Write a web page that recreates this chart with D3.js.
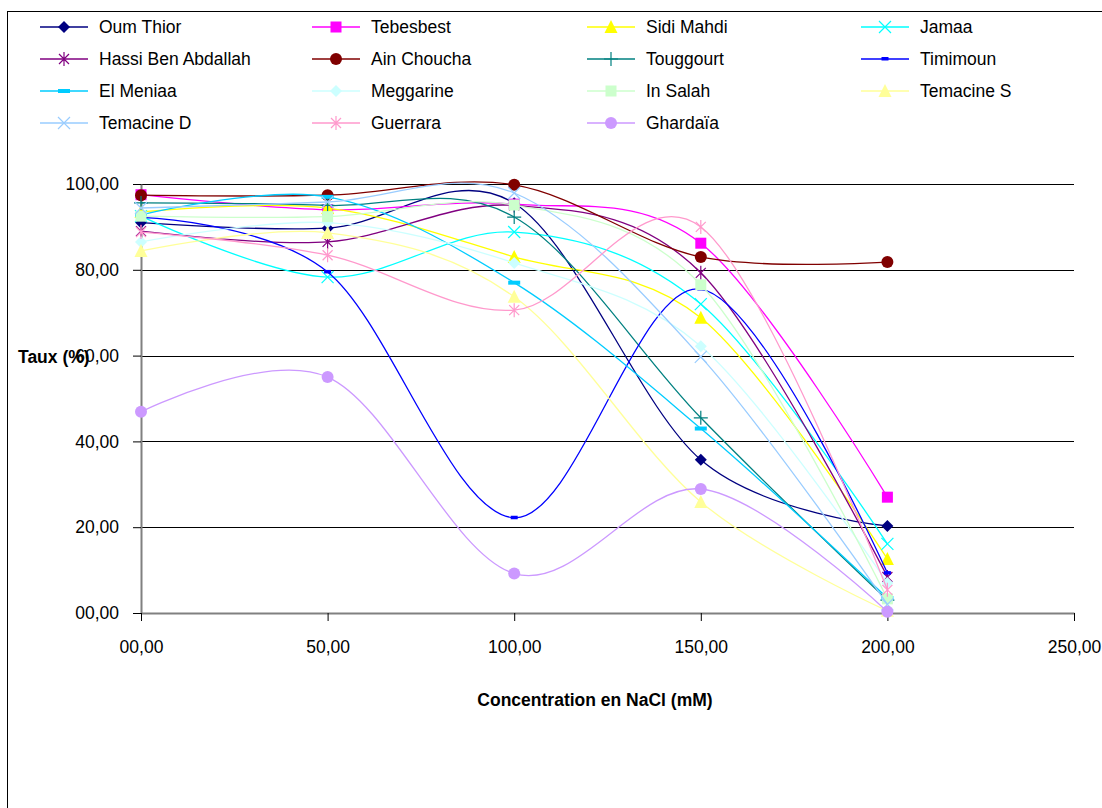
<!DOCTYPE html>
<html>
<head>
<meta charset="utf-8">
<script src="https://cdn.jsdelivr.net/npm/d3@7"></script>
<style>
  html, body { margin: 0; padding: 0; background: #fff; }
  svg text { font-family: "Liberation Sans", Arial, sans-serif; }
</style>
</head>
<body>
<svg id="chart" width="1102" height="808"></svg>
<script>
// NaCl concentrations (mM)
const concentrations = [0, 50, 100, 150, 200];

// Germination rate (%) per provenance
const oumThior        = [91.0, 89.7, 95.5, 35.7, 20.3];
const tebesbest       = [97.5, 94.0, 95.3, 86.2, 27.0];
const sidiMahdi       = [93.5, 94.4, 83.0, 68.8, 12.6];
const jamaa           = [92.5, 78.3, 88.8, 72.0, 16.1];
const hassiBenAbdallah= [89.0, 86.5, 95.0, 79.3, 8.4];
const ainChoucha      = [97.4, 97.4, 99.8, 83.0, 81.8];
const touggourt       = [95.6, 95.0, 92.3, 45.5, 3.0];
const timimoun        = [92.2, 79.5, 22.2, 75.5, 9.3];
const elMeniaa        = [92.8, 97.0, 77.0, 43.0, 3.5];
const meggarine       = [86.5, 91.0, 81.6, 62.2, 7.0];
const inSalah         = [92.5, 92.4, 95.1, 76.5, 3.3];
const temacineS       = [84.4, 88.6, 73.7, 25.9, 0.5];
const temacineD       = [94.4, 95.8, 97.9, 59.7, 2.0];
const guerrara        = [88.8, 83.4, 70.6, 90.0, 5.4];
const ghardaia        = [46.9, 55.0, 9.2, 28.9, 0.3];

const seriesNames = ["Oum Thior", "Tebesbest", "Sidi Mahdi", "Jamaa",
  "Hassi Ben Abdallah", "Ain Choucha", "Touggourt", "Timimoun",
  "El Meniaa", "Meggarine", "In Salah", "Temacine S",
  "Temacine D", "Guerrara", "Ghardaïa"];
const seriesValues = [oumThior, tebesbest, sidiMahdi, jamaa,
  hassiBenAbdallah, ainChoucha, touggourt, timimoun,
  elMeniaa, meggarine, inSalah, temacineS,
  temacineD, guerrara, ghardaia];

// Axis ticks and their labels
const xTicks = [0, 50, 100, 150, 200, 250];
const xTickLabels = ["00,00", "50,00", "100,00", "150,00", "200,00", "250,00"];
const yTicks = [0, 20, 40, 60, 80, 100];
const yTickLabels = ["00,00", "20,00", "40,00", "60,00", "80,00", "100,00"];

// Styling per series: colour and marker shape
const seriesColors = ["#000080", "#FF00FF", "#FFFF00", "#00FFFF",
  "#800080", "#800000", "#008080", "#0000FF",
  "#00CCFF", "#CCFFFF", "#CCFFCC", "#FFFF99",
  "#99CCFF", "#FF99CC", "#CC99FF"];
const seriesMarkers = ["diamond", "square", "triangle", "x",
  "star", "circle", "plus", "smalldash",
  "dash", "diamond", "square", "triangle",
  "x", "star", "circle"];

const FONT = 17.5;
const svg = d3.select("#chart");

// Outer chart frame
svg.append("rect")
  .attr("x", 7.5).attr("y", 11.5)
  .attr("width", 1110).attr("height", 820)
  .attr("fill", "#fff").attr("stroke", "#000").attr("stroke-width", 1);

const x = d3.scaleLinear().domain([0, 250]).range([141, 1074]);
const y = d3.scaleLinear().domain([0, 100]).range([613, 184]);

// Horizontal gridlines
svg.append("g").selectAll("line")
  .data(yTicks.filter(d => d > 0))
  .join("line")
  .attr("x1", x(0)).attr("x2", x(250))
  .attr("y1", d => Math.round(y(d)) + 0.5).attr("y2", d => Math.round(y(d)) + 0.5)
  .attr("stroke", "#000").attr("stroke-width", 1);

// Y axis
const yAxis = svg.append("g")
  .attr("transform", `translate(${x(0)},0)`)
  .call(d3.axisLeft(y).tickValues(yTicks)
    .tickFormat((d, i) => yTickLabels[i]).tickSize(8).tickSizeOuter(0).tickPadding(14));
yAxis.select(".domain").attr("stroke", "#808080").attr("stroke-width", 2);
yAxis.selectAll(".tick line").attr("stroke", "#000");
yAxis.selectAll("text").attr("font-size", FONT).attr("fill", "#000");

// X axis
const xAxis = svg.append("g")
  .attr("transform", `translate(0,${y(0)})`)
  .call(d3.axisBottom(x).tickValues(xTicks)
    .tickFormat((d, i) => xTickLabels[i]).tickSize(8).tickSizeOuter(0).tickPadding(20));
xAxis.select(".domain").attr("stroke", "#808080").attr("stroke-width", 2);
xAxis.selectAll(".tick line").attr("stroke", "#000");
xAxis.selectAll("text").attr("font-size", FONT).attr("fill", "#000");

// Axis titles
svg.append("text")
  .attr("x", 595).attr("y", 706)
  .attr("text-anchor", "middle").attr("font-size", FONT).attr("font-weight", "bold")
  .text("Concentration en NaCl (mM)");
svg.append("text")
  .attr("x", 18).attr("y", 363)
  .attr("font-size", FONT).attr("font-weight", "bold")
  .text("Taux (%)");

// Marker drawing
function drawMarker(g, type, cx, cy, color) {
  const s = 6;
  switch (type) {
    case "diamond":
      g.append("path").attr("d", `M${cx},${cy - s}L${cx + s},${cy}L${cx},${cy + s}L${cx - s},${cy}Z`)
        .attr("fill", color);
      break;
    case "square":
      g.append("rect").attr("x", cx - 5.5).attr("y", cy - 5.5).attr("width", 11).attr("height", 11)
        .attr("fill", color);
      break;
    case "triangle":
      g.append("path").attr("d", `M${cx},${cy - 7}L${cx + 6.5},${cy + 6}L${cx - 6.5},${cy + 6}Z`)
        .attr("fill", color);
      break;
    case "circle":
      g.append("circle").attr("cx", cx).attr("cy", cy).attr("r", 6).attr("fill", color);
      break;
    case "x":
      g.append("path").attr("d", `M${cx - s},${cy - s}L${cx + s},${cy + s}M${cx - s},${cy + s}L${cx + s},${cy - s}`)
        .attr("stroke", color).attr("stroke-width", 1.2).attr("fill", "none");
      break;
    case "star":
      g.append("path").attr("d", `M${cx - 5},${cy - 5}L${cx + 5},${cy + 5}M${cx - 5},${cy + 5}L${cx + 5},${cy - 5}M${cx},${cy - 7}L${cx},${cy + 7}`)
        .attr("stroke", color).attr("stroke-width", 1.2).attr("fill", "none");
      break;
    case "plus":
      g.append("path").attr("d", `M${cx - 7},${cy}L${cx + 7},${cy}M${cx},${cy - 7}L${cx},${cy + 7}`)
        .attr("stroke", color).attr("stroke-width", 1.2).attr("fill", "none");
      break;
    case "dash":
      g.append("rect").attr("x", cx - 6).attr("y", cy - 2).attr("width", 12).attr("height", 4)
        .attr("fill", color);
      break;
    case "smalldash":
      g.append("rect").attr("x", cx - 3.5).attr("y", cy - 2).attr("width", 7).attr("height", 3.5)
        .attr("fill", color);
      break;
  }
}

// Data series: smoothed lines with markers
const line = d3.line()
  .x(d => x(d[0])).y(d => y(d[1]))
  .curve(d3.curveCardinal.tension(0));

const plot = svg.append("g");
seriesValues.forEach((vals, i) => {
  const pts = concentrations.map((c, j) => [c, vals[j]]);
  const g = plot.append("g");
  g.append("path").datum(pts)
    .attr("d", line)
    .attr("fill", "none").attr("stroke", seriesColors[i]).attr("stroke-width", 1.3);
  pts.forEach(p => drawMarker(g, seriesMarkers[i], x(p[0]), y(p[1]), seriesColors[i]));
});

// Legend: 4 columns
const legendCols = [40, 312, 587, 861];
const legendRows = [27, 59, 91, 123];
const legend = svg.append("g");
seriesNames.forEach((name, i) => {
  const lx = legendCols[i % 4];
  const ly = legendRows[Math.floor(i / 4)];
  const g = legend.append("g");
  g.append("line").attr("x1", lx).attr("x2", lx + 48).attr("y1", ly).attr("y2", ly)
    .attr("stroke", seriesColors[i]).attr("stroke-width", 1.3);
  drawMarker(g, seriesMarkers[i], lx + 24, ly, seriesColors[i]);
  g.append("text").attr("x", lx + 59).attr("y", ly + 6)
    .attr("font-size", FONT).attr("fill", "#000").text(name);
});
</script>
</body>
</html>
